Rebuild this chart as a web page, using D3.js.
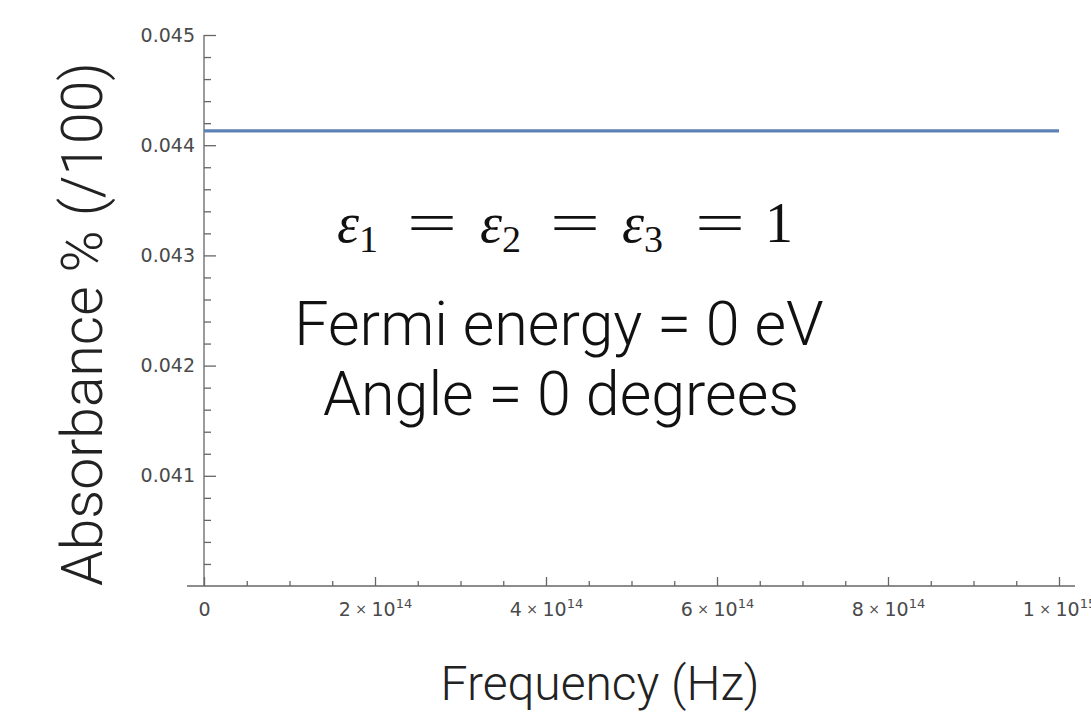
<!DOCTYPE html>
<html>
<head>
<meta charset="utf-8">
<script src="https://cdn.jsdelivr.net/npm/d3@7"></script>
<style>
  body { margin: 0; background: #fff; }
  svg { display: block; }
  .tick text { font-family: "DejaVu Sans", sans-serif; fill: #4a4a4a; }
  .tick line { stroke: #666; }
</style>
</head>
<body>
<div id="vis"></div>
<script>
// data
var freq_hz = [0, 1e14, 2e14, 3e14, 4e14, 5e14, 6e14, 7e14, 8e14, 9e14, 1e15];
var absorbance = [0.04413, 0.04413, 0.04413, 0.04413, 0.04413, 0.04413, 0.04413, 0.04413, 0.04413, 0.04413, 0.04413];

var x_ticks = [0, 2e14, 4e14, 6e14, 8e14, 1e15];
var x_tick_mant = ['0', '2', '4', '6', '8', '1'];
var x_tick_exp = ['', '14', '14', '14', '14', '15'];
var x_minor = [0.5e14, 1e14, 1.5e14, 2.5e14, 3e14, 3.5e14, 4.5e14, 5e14, 5.5e14, 6.5e14, 7e14, 7.5e14, 8.5e14, 9e14, 9.5e14];

var y_ticks = [0.041, 0.042, 0.043, 0.044, 0.045];
var y_tick_labels = ['0.041', '0.042', '0.043', '0.044', '0.045'];
var y_minor = [0.0402, 0.0404, 0.0406, 0.0408, 0.0412, 0.0414, 0.0416, 0.0418, 0.0422, 0.0424, 0.0426, 0.0428,
    0.0432, 0.0434, 0.0436, 0.0438, 0.0442, 0.0444, 0.0446, 0.0448];

var width = 1091,
    height = 713;

var svg = d3.select('#vis')
    .append('svg')
    .attr('width', width)
    .attr('height', height);

var x_scale = d3.scaleLinear()
    .domain([0, 1e15])
    .range([204, 1059]);

var y_scale = d3.scaleLinear()
    .domain([0.04, 0.045])
    .range([586, 35]);

// axes lines
svg.append('line')
    .attr('x1', x_scale(0) - 17).attr('x2', x_scale(1e15) + 16)
    .attr('y1', y_scale(0.04)).attr('y2', y_scale(0.04))
    .attr('stroke', '#666').attr('stroke-width', 1.3);

svg.append('line')
    .attr('x1', x_scale(0)).attr('x2', x_scale(0))
    .attr('y1', y_scale(0.045)).attr('y2', y_scale(0.04))
    .attr('stroke', '#666').attr('stroke-width', 1.3);

// x ticks
var x_axis = d3.axisBottom(x_scale)
    .tickValues(x_ticks)
    .tickSize(-9)
    .tickFormat('');

var gx = svg.append('g')
    .attr('class', 'x axis')
    .attr('transform', 'translate(0,' + y_scale(0.04) + ')')
    .call(x_axis);
gx.select('.domain').remove();

gx.selectAll('.tick')
    .append('text')
    .attr('y', 30)
    .attr('text-anchor', 'middle')
    .attr('font-size', 19)
    .style('font-size', '19px')
    .each(function (d, i) {
        var t = d3.select(this);
        if (x_tick_exp[i] === '') {
            t.text(x_tick_mant[i]);
            return;
        }
        t.append('tspan').text(x_tick_mant[i]);
        t.append('tspan').style('font-size', '14px').attr('dy', -2).text(' \u00d7 ');
        t.append('tspan').attr('dy', 2).text('10');
        t.append('tspan').style('font-size', '13px').attr('dy', -8).text(x_tick_exp[i]);
    });

svg.append('g')
    .attr('class', 'x minor')
    .attr('transform', 'translate(0,' + y_scale(0.04) + ')')
    .call(d3.axisBottom(x_scale).tickValues(x_minor).tickSize(-5).tickFormat(''))
    .select('.domain').remove();

// y ticks
var y_axis = d3.axisLeft(y_scale)
    .tickValues(y_ticks)
    .tickSize(-12)
    .tickPadding(9)
    .tickFormat(function (d, i) { return y_tick_labels[i]; });

var gy = svg.append('g')
    .attr('class', 'y axis')
    .attr('transform', 'translate(' + x_scale(0) + ',0)')
    .call(y_axis);
gy.select('.domain').remove();
gy.selectAll('.tick text').style('font-size', '19px');

svg.append('g')
    .attr('class', 'y minor')
    .attr('transform', 'translate(' + x_scale(0) + ',0)')
    .call(d3.axisLeft(y_scale).tickValues(y_minor).tickSize(-7).tickFormat(''))
    .select('.domain').remove();

svg.selectAll('.tick line').attr('stroke-width', 1.3);

// the curve
var line = d3.line()
    .x(function (d, i) { return x_scale(freq_hz[i]); })
    .y(function (d) { return y_scale(d); });

svg.append('path')
    .datum(absorbance)
    .attr('d', line)
    .attr('fill', 'none')
    .attr('stroke', '#5e81b5')
    .attr('stroke-width', 3.2);

// axis titles
svg.append('text')
    .attr('transform', 'translate(102,' + 324 + ') rotate(-90)')
    .attr('text-anchor', 'middle')
    .style('font-family', 'Roboto, sans-serif')
    .style('font-weight', 300)
    .style('font-size', '57px')
    .style('fill', '#222')
    .text('Absorbance % (/100)');

svg.append('text')
    .attr('x', 600)
    .attr('y', 700)
    .attr('text-anchor', 'middle')
    .style('font-family', 'Roboto, sans-serif')
    .style('font-weight', 300)
    .style('font-size', '48px')
    .style('fill', '#222')
    .text('Frequency (Hz)');

// annotations
var eps = [[337, '1'], [480, '2'], [622, '3']];
eps.forEach(function (e) {
    var t = svg.append('text')
        .attr('x', e[0])
        .attr('y', 242)
        .style('font-family', '"Liberation Serif", serif')
        .style('font-size', '56px')
        .style('fill', '#111');
    t.append('tspan').style('font-style', 'italic').text('\u03b5');
    t.append('tspan').attr('dy', 10).style('font-size', '38px').text(e[1]);
});
[407, 550, 695].forEach(function (xx) {
    svg.append('text')
        .attr('x', xx)
        .attr('y', 242)
        .attr('textLength', 50)
        .attr('lengthAdjust', 'spacingAndGlyphs')
        .style('font-family', '"Liberation Serif", serif')
        .style('font-size', '56px')
        .style('fill', '#111')
        .text('=');
});
svg.append('text')
    .attr('x', 765)
    .attr('y', 242)
    .style('font-family', '"Liberation Serif", serif')
    .style('font-size', '56px')
    .style('fill', '#111')
    .text('1');

svg.append('text')
    .attr('x', 559)
    .attr('y', 345)
    .attr('text-anchor', 'middle')
    .style('font-family', 'Roboto, sans-serif')
    .style('font-weight', 300)
    .style('font-size', '61px')
    .style('fill', '#111')
    .text('Fermi energy = 0 eV');

svg.append('text')
    .attr('x', 561)
    .attr('y', 415)
    .attr('text-anchor', 'middle')
    .style('font-family', 'Roboto, sans-serif')
    .style('font-weight', 300)
    .style('font-size', '61px')
    .style('fill', '#111')
    .text('Angle = 0 degrees');
</script>
</body>
</html>
